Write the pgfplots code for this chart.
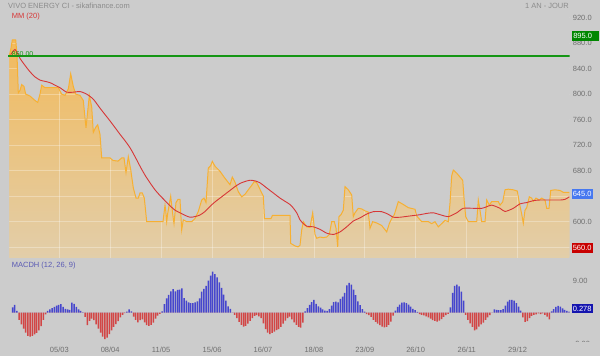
\documentclass[border=0pt]{standalone}
\usepackage{pgfplots}
\pgfplotsset{compat=1.18}
\usepackage{pgfplotstable}
\usepackage{fontspec}
\setmainfont{Liberation Sans}

\definecolor{bg}{RGB}{204,204,204}
\definecolor{pline}{RGB}{247,176,50}
\definecolor{ftop}{RGB}{242,186,92}
\definecolor{fbot}{RGB}{226,206,170}
\definecolor{mared}{RGB}{215,55,55}
\definecolor{lvlgreen}{RGB}{20,150,20}
\definecolor{mblue}{RGB}{70,70,205}
\definecolor{mred}{RGB}{210,70,70}
\definecolor{tickgray}{RGB}{112,112,112}
\definecolor{titlegray}{RGB}{140,140,140}
\definecolor{boxgreen}{RGB}{0,135,0}
\definecolor{boxblue}{RGB}{70,120,240}
\definecolor{boxred}{RGB}{200,0,0}
\definecolor{boxnavy}{RGB}{20,20,175}
\definecolor{macdtxt}{RGB}{90,90,180}

\newcommand\lbl{\fontsize{7.5}{9}\selectfont}

\pgfplotstableread{
x y
9 858
11 872
12.3 885
15.7 885
17 862
18.3 802
20 806
21.7 815
24 812
25.7 800
30 797
35 790
37.7 787
40 800
41.7 814
45 810
58.3 810
60 805
61.7 800
65 798
68.3 808
70.7 832
73.3 812
75.7 800
80 798
83.3 790
86 747
89.3 798
91.7 780
93.3 740
95.7 748
97.7 752
100 737
101.7 700
104 700
110 700
113 696
118 695
121.7 700
124 700
126 677
128.3 702
130.7 682
133.3 653
136 637
138.3 637
140 645
142.3 645
144.3 637
146.7 600
163 600
165 626
165.7 618
166.7 600
167.7 613
170.7 640
172.7 612
174 597
176 630
178 635
180 635
181.7 587
183.3 603
186.7 600
191.7 600
195 605
198.3 616
201.7 634
204 637
206 630
208.3 684
210.7 688
212.3 694.5
215 687
220 679
225 668
230 658
232.3 670
235 662
238.3 647
241.7 639
245 643
248.3 650
251.7 657
254.3 663
256.7 661
259.3 653
261.7 645
263.3 640
264.5 605
271 605
272.5 610
290 610
290.7 566
295 562
298 560.6
300 563
301.7 587
303.3 600
306.7 592
310 591
312.7 614
315 580
316.7 574
320 576
323.3 575
326.7 576
329.3 580
331.7 600
334.3 600
336 590
337.7 560.6
339 608
341 611
343.3 618
345 655
348.3 650
351.7 642
353.3 608
355 614
358.3 621
361.7 620
365 617
368.3 615
370 589.6
372.7 600
376.7 598
381.7 594
386.7 584
389.3 597
391.7 605
394.3 611
398.3 631.5
403.3 627
408.3 622
415 619.5
416.7 609
421.7 600
428.3 600
431.7 597
435 600
438.3 592
441.7 597
445 602
448.3 600
450 629
451.7 672
453.3 681
456.7 676
460 670
462.7 665
464.3 631
465.7 608
468.3 600
476.7 600
478.3 634
480 618
481.7 600
485 600
486.7 634
489.3 626
491.7 631.5
498.3 631.5
500 626
502.7 631
505 650
508.3 651
513.3 650
517.3 648
519.3 630
521.7 612
523.3 597.5
525 618
526.7 622
529.3 639
531.7 637
533.3 632
536 637
539.3 634
541.7 637
545 634
546.7 621
549 621
550.7 649
555 650
560 649
563.3 646
569.3 646
}\price

\pgfplotstableread{
x y
10.7 862
13 867
15 870
17.5 864
20 856
25 845
30 835
35 827
40 822
45 820
50 818
55 814
60 810
66.7 803
73 803
80 804
86.7 800
93.3 792
100 778
105 768
110 758
116.7 744
120 737
125 727
130 716
135 702
140 687
145 673
150 661
155 650
160 641
165 633
170 625
175 618
180 614
185 610
190 607
195 608
200 610.5
205 616
210 624
215 631
220 637
225 643
230 649
235 655
240 660
245 663
250 665
255 664
260 661
265 655
270 649
275 643
280 637
285 632
290 627
293 622
296.7 614
300 603
303.3 597
306.7 593
313.3 592
320 588
326.7 582
333.3 580
340 584
346.7 592
353.3 601
360 606
366.7 612
373.3 615.7
381.7 615.7
388.3 611.6
393.3 607
400 607
410 609
420 611
426.7 613
433.3 614
440 611
448.3 608
456.7 614
463.3 621
473.3 621
481.7 621
486 623
491.7 626
500 621
505 616
513.3 621
520 628
526.7 630
533.3 633
540 634
550 634
560 634
565 635
569.3 639
}\mavg

\pgfplotstableread{
m
1.5
2.2
0.5
-2.0
-3.3
-4.5
-5.6
-6.5
-6.7
-6.5
-6.1
-5.7
-5.0
-3.8
-2.0
-0.5
0.5
0.9
1.3
1.6
2.0
2.2
2.4
1.6
1.1
0.9
0.8
2.8
2.5
1.6
0.9
0.5
0.1
-1.2
-3.5
-2.3
-1.7
-2.1
-3.3
-4.5
-5.6
-6.7
-7.4
-7.0
-6.0
-5.0
-4.0
-3.2
-2.4
-1.3
-0.6
-0.1
0.3
0.9
0.4
-1.1
-2.0
-2.7
-2.1
-1.9
-2.7
-3.5
-3.7
-3.4
-2.8
-1.7
-0.8
-0.3
0.4
2.4
4.0
5.0
6.0
6.6
6.0
6.4
6.5
6.8
4.1
3.4
2.9
2.7
2.7
2.9
3.2
4.0
5.9
6.7
7.5
9.0
10.4
11.5
10.8
9.9
8.5
7.0
5.1
3.4
1.8
1.1
0.0
-0.6
-1.5
-2.6
-3.4
-3.9
-3.7
-3.1
-2.3
-1.5
-0.9
-0.7
-1.0
-1.5
-3.0
-4.6
-5.6
-6.0
-5.7
-5.3
-4.9
-4.6
-4.0
-3.1
-2.2
-1.5
-1.1
-1.9
-2.7
-3.4
-4.0
-4.2
-2.8
0.4
1.3
2.2
3.0
3.6
2.5
1.8
1.4
0.9
0.6
0.5
1.0
2.0
3.0
3.1
2.9
3.9
4.5
5.6
7.7
8.4
7.9
6.5
4.9
3.2
2.1
1.0
0.3
-0.4
-0.7
-1.2
-2.0
-2.6
-3.1
-3.5
-3.9
-4.1
-4.0
-3.4
-2.5
-0.8
0.6
1.6
2.3
2.8
2.9
2.7
2.3
1.7
1.1
0.7
0.2
-0.4
-0.6
-0.75
-1.0
-1.3
-1.7
-2.1
-2.3
-2.5
-2.2
-1.8
-1.2
-0.7
-0.3
1.5
5.6
7.5
7.9
7.4
5.9
3.4
-0.6
-2.0
-3.0
-4.0
-5.0
-4.7
-3.9
-3.3
-2.8
-2.0
-1.3
-0.7
0.0
0.9
0.8
0.75
0.75
1.0
2.0
3.1
3.6
3.6
3.4
2.7
1.7
0.6
-1.3
-2.6
-2.4
-1.5
-0.9
-0.6
-0.45
-0.2
-0.4
-0.2
-0.6
-1.1
-1.9
0.4
1.0
1.6
1.9
1.7
1.2
0.8
0.5
0.28
}\macd

\begin{document}
\begin{tikzpicture}
\path[use as bounding box, fill=bg] (0,0) rectangle (600pt,356pt);

% ---------- price panel ----------
\begin{axis}[
  at={(8pt,98pt)}, anchor=south west, scale only axis,
  width=561.5pt, height=250pt,
  xmin=8, xmax=569.5, ymin=543.1, ymax=935,
  axis line style={draw=none}, major tick length=0pt,
  xtick=\empty,
  ytick={600,680,720,760,800,840,880,920},
  yticklabel pos=right,
  yticklabel style={anchor=west, inner sep=0pt, xshift=3.2pt, font=\lbl, text=tickgray,
    /pgf/number format/fixed, /pgf/number format/fixed zerofill, /pgf/number format/precision=1},
  /pgf/number format/assume math mode=true,
]
\addplot[draw=none, top color=ftop, bottom color=fbot] table[x=x,y=y]{\price}
  -- (axis cs:569.3,540) -- (axis cs:9,540) -- cycle;
\pgfplotsinvokeforeach{59.3,110.2,161.1,212.1,263.0,313.9,364.8,415.7,466.7,517.6}{
  \draw[white, opacity=0.3, line width=0.8pt] (axis cs:#1,540) -- (axis cs:#1,940);}
\pgfplotsinvokeforeach{560,600,640,680,720,760,800,840,880,920}{
  \draw[white, opacity=0.3, line width=0.8pt] (axis cs:8,#1) -- (axis cs:570,#1);}
\addplot[draw=none, fill=bg] table[x=x,y=y]{\price}
  -- (axis cs:569.3,540) -- (axis cs:570,540) -- (axis cs:570,940) -- (axis cs:8,940)
  -- (axis cs:8,540) -- (axis cs:9,540) -- cycle;
\addplot[pline, line width=1pt] table[x=x,y=y]{\price};
\addplot[mared, line width=0.9pt, smooth, tension=0.4] table[x=x,y=y]{\mavg};
\addplot[color=lvlgreen, mark=none, line width=1.4pt] coordinates {(8,860) (100,860) (200,860) (300,860) (400,860) (500,860) (569.5,860)};
\end{axis}

% ---------- MACD panel ----------
\begin{axis}[
  at={(8pt,14pt)}, anchor=south west, scale only axis,
  width=561.5pt, height=82pt,
  xmin=8, xmax=569.5, ymin=-8.23, ymax=14.8,
  axis line style={draw=none}, major tick length=0pt,
  xtick={59.3,110.2,161.1,212.1,263.0,313.9,364.8,415.7,466.7,517.6},
  xticklabels={05/03,08/04,11/05,15/06,16/07,18/08,23/09,26/10,26/11,29/12},
  xticklabel style={anchor=north, inner sep=0pt, yshift=-4.5pt, font=\lbl, text=tickgray},
  ytick={9}, yticklabel pos=right,
  yticklabel style={anchor=west, inner sep=0pt, xshift=3.2pt, font=\lbl, text=tickgray,
    /pgf/number format/fixed, /pgf/number format/fixed zerofill, /pgf/number format/precision=2},
  /pgf/number format/assume math mode=true,
]
\addplot[ybar, bar width=1.5pt, bar shift=0pt, draw=none, fill=mblue]
  table[x index=0, y index=0, x expr={12.5+2.2*\coordindex}, y expr={max(\thisrow{m},0)}]{\macd};
\addplot[ybar, bar width=1.5pt, bar shift=0pt, draw=none, fill=mred]
  table[x index=0, y index=0, x expr={12.5+2.2*\coordindex}, y expr={min(\thisrow{m},0)}]{\macd};
\end{axis}

% ---------- texts ----------
\node[anchor=west, inner sep=0pt, text=titlegray, font=\lbl] at (8pt,350.5pt) {VIVO ENERGY CI - sikafinance.com};
\node[anchor=east, inner sep=0pt, text=titlegray, font=\lbl] at (569pt,350.5pt) {1 AN - JOUR};
\node[anchor=west, inner sep=0pt, text=mared, font=\lbl] at (11.7pt,339.3pt) {MM (20)};
\node[anchor=west, inner sep=0pt, text=macdtxt, font=\lbl] at (11.7pt,90pt) {MACDH (12, 26, 9)};
\node[anchor=west, inner sep=0pt, text=lvlgreen, font=\fontsize{7}{8}\selectfont] at (11.7pt,302pt) {860.00};

\node[anchor=west, fill=boxgreen, text=white, font=\lbl, inner sep=0pt, minimum height=10pt, minimum width=27.5pt, text width=26pt, align=left] at (571.5pt,320pt) {\hspace*{0.8pt}895.0};
\node[anchor=west, fill=boxblue, text=white, font=\lbl, inner sep=0pt, minimum height=9.5pt, minimum width=21pt] at (571.5pt,161.8pt) {645.0};
\node[anchor=west, fill=boxred, text=white, font=\lbl, inner sep=0pt, minimum height=9.5pt, minimum width=21pt] at (571.5pt,108.2pt) {560.0};
\node[anchor=west, fill=boxnavy, text=white, font=\lbl, inner sep=0pt, minimum height=9.5pt, minimum width=21pt] at (571.5pt,47.5pt) {0.278};
\begin{scope}
\clip (565pt,14pt) rectangle (600pt,30pt);
\node[anchor=west, inner sep=0pt, text=tickgray, font=\lbl] at (572.7pt,12.5pt) {-9.00};
\end{scope}
\end{tikzpicture}
\end{document}
